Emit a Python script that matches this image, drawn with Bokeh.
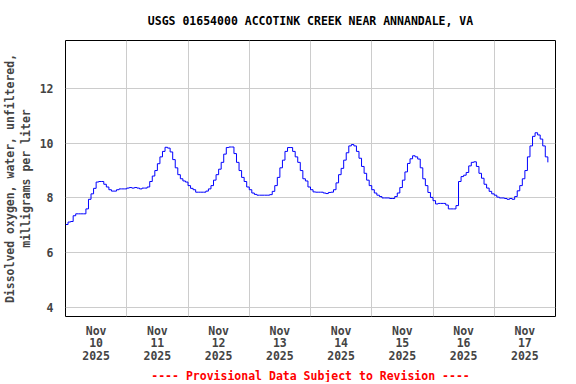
from bokeh.plotting import figure
from bokeh.models import FixedTicker, Title, Range1d
from bokeh.embed import file_html
from bokeh.resources import INLINE

# Hourly dissolved-oxygen readings (mg/L), starting Nov 10 2025 00:00
do_nov10 = [7.03, 7.12, 7.14, 7.35, 7.42, 7.42, 7.42, 7.42, 7.6, 7.95, 8.15, 8.35,
            8.58, 8.6, 8.6, 8.5, 8.4, 8.3, 8.25, 8.25, 8.3, 8.33, 8.33, 8.33]
do_nov11 = [8.36, 8.38, 8.36, 8.38, 8.36, 8.33, 8.36, 8.36, 8.4, 8.6, 8.8, 9.0,
            9.25, 9.5, 9.7, 9.85, 9.82, 9.68, 9.4, 9.1, 8.85, 8.7, 8.62, 8.58]
do_nov12 = [8.45, 8.35, 8.3, 8.21, 8.21, 8.21, 8.21, 8.25, 8.33, 8.45, 8.65, 8.85,
            9.05, 9.3, 9.6, 9.84, 9.86, 9.86, 9.62, 9.3, 9.0, 8.75, 8.6, 8.4]
do_nov13 = [8.3, 8.18, 8.13, 8.1, 8.1, 8.1, 8.1, 8.1, 8.12, 8.24, 8.45, 8.75,
            9.1, 9.38, 9.7, 9.84, 9.84, 9.7, 9.5, 9.3, 9.0, 8.7, 8.62, 8.4]
do_nov14 = [8.3, 8.22, 8.21, 8.21, 8.21, 8.18, 8.16, 8.2, 8.21, 8.3, 8.55, 8.85,
            9.08, 9.38, 9.65, 9.9, 9.95, 9.9, 9.7, 9.45, 9.15, 8.9, 8.65, 8.45]
do_nov15 = [8.3, 8.18, 8.1, 8.05, 8.0, 8.0, 8.0, 7.98, 7.98, 8.05, 8.18, 8.38,
            8.65, 8.95, 9.26, 9.43, 9.54, 9.5, 9.42, 9.1, 8.7, 8.45, 8.2, 8.02]
do_nov16 = [7.9, 7.78, 7.8, 7.8, 7.8, 7.74, 7.6, 7.6, 7.6, 7.72, 8.6, 8.78,
            8.83, 8.93, 9.17, 9.3, 9.32, 9.15, 8.9, 8.72, 8.5, 8.36, 8.24, 8.15]
do_nov17 = [8.1, 8.03, 8.0, 8.0, 7.98, 7.95, 7.98, 7.95, 8.05, 8.26, 8.45, 8.7,
            9.0, 9.5, 9.9, 10.25, 10.38, 10.3, 10.15, 9.9, 9.5, 9.3]

day_labels = ["Nov\n10\n2025", "Nov\n11\n2025", "Nov\n12\n2025", "Nov\n13\n2025",
              "Nov\n14\n2025", "Nov\n15\n2025", "Nov\n16\n2025", "Nov\n17\n2025"]
y_ticks = [4, 6, 8, 10, 12]

values = do_nov10 + do_nov11 + do_nov12 + do_nov13 + do_nov14 + do_nov15 + do_nov16 + do_nov17
hours = list(range(len(values)))

FONT = "DejaVu Sans Mono"
FS = "11.5px"

p = figure(frame_width=490, frame_height=276, output_backend="svg", toolbar_location=None,
           x_range=Range1d(0, 192), y_range=Range1d(3.67, 13.75),
           min_border_left=57, min_border_right=10, min_border_top=40, min_border_bottom=56)

p.step(hours, values, mode="after", line_color="#0000ff", line_width=1)

p.title.text = "USGS 01654000 ACCOTINK CREEK NEAR ANNANDALE, VA"
p.title.align = "center"
p.title.vertical_align = "top"
p.title.text_font = FONT
p.title.text_font_size = FS
p.title.text_font_style = "bold"
p.title.text_color = "black"
p.title.standoff = 22

p.add_layout(Title(text="---- Provisional Data Subject to Revision ----", align="center",
                   text_font=FONT, text_font_size=FS, text_font_style="bold",
                   text_color="red", standoff=0), "below")

p.outline_line_color = "black"
p.outline_line_width = 1

xa = p.xaxis[0]
xa.ticker = FixedTicker(ticks=[12 + 24 * i for i in range(len(day_labels))])
xa.major_label_overrides = {12 + 24 * i: lab for i, lab in enumerate(day_labels)}
xa.major_tick_line_color = None
xa.minor_tick_line_color = None
xa.axis_line_color = None
xa.major_label_text_font = FONT
xa.major_label_text_font_size = FS
xa.major_label_text_font_style = "bold"
xa.major_label_text_line_height = 0.92
xa.major_label_standoff = 1

ya = p.yaxis[0]
ya.ticker = FixedTicker(ticks=y_ticks)
ya.major_tick_line_color = None
ya.minor_tick_line_color = None
ya.axis_line_color = None
ya.major_label_text_font = FONT
ya.major_label_text_font_size = FS
ya.major_label_text_font_style = "bold"
ya.major_label_standoff = 6
ya.axis_label = "Dissolved oxygen, water, unfiltered,\nmilligrams per liter"
ya.axis_label_text_font = FONT
ya.axis_label_text_font_size = FS
ya.axis_label_text_font_style = "bold"
ya.axis_label_text_line_height = 1.1
ya.axis_label_standoff = 4

p.xgrid.ticker = FixedTicker(ticks=[24 * i for i in range(1, 8)])
p.ygrid.ticker = FixedTicker(ticks=y_ticks)
p.xgrid.grid_line_color = "#cccccc"
p.ygrid.grid_line_color = "#cccccc"

open("out.html", "w").write(file_html(p, INLINE))
